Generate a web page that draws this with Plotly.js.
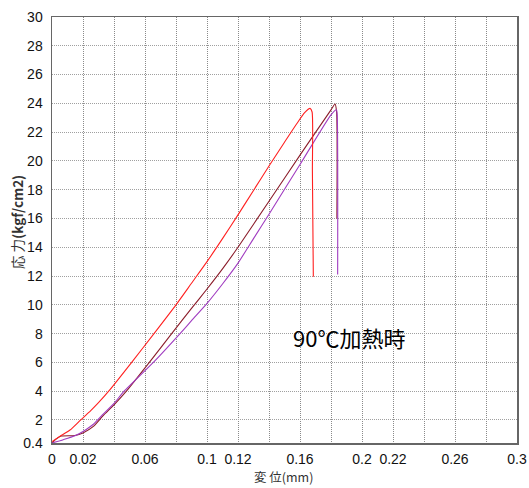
<!DOCTYPE html>
<html>
<head>
<meta charset="utf-8">
<script src="https://cdn.plot.ly/plotly-3.0.1.min.js"></script>
<style>html,body{margin:0;padding:0;background:#fff;}#chart{width:529px;height:488px;}</style>
</head>
<body>
<div id="chart"></div>
<script>
// Sample A (red)
const redX = [0, 0.005, 0.0116, 0.018, 0.025, 0.03, 0.037, 0.0514, 0.0658, 0.08, 0.09, 0.1, 0.11, 0.12, 0.13, 0.14, 0.15, 0.158, 0.163, 0.1665, 0.1678, 0.168, 0.1686];
const redY = [0.5, 0.85, 1.3, 1.95, 2.65, 3.2, 4.05, 6.0, 8.0, 10.0, 11.5, 13.0, 14.6, 16.25, 17.95, 19.65, 21.3, 22.6, 23.35, 23.65, 23.4, 19.3, 11.95];
// Sample B (maroon)
const maroonX = [0, 0.003, 0.006, 0.0148, 0.02, 0.0267, 0.033, 0.04, 0.048, 0.0628, 0.0772, 0.09, 0.1, 0.11, 0.12, 0.14, 0.16, 0.18, 0.1826, 0.1836, 0.1838];
const maroonY = [0.4, 0.7, 0.88, 0.92, 1.1, 1.55, 2.3, 3.05, 4.0, 6.0, 8.0, 9.75, 11.1, 12.5, 14.0, 17.2, 20.4, 23.55, 23.95, 23.4, 16.0];
// Sample C (purple)
const purpleX = [0, 0.0073, 0.0148, 0.02, 0.0267, 0.033, 0.04, 0.0465, 0.0654, 0.0826, 0.09, 0.1, 0.11, 0.12, 0.13, 0.14, 0.16, 0.18, 0.1835, 0.184, 0.1843];
const purpleY = [0.4, 0.63, 0.9, 1.2, 1.7, 2.4, 3.15, 4.0, 6.0, 8.0, 8.9, 10.1, 11.45, 12.9, 14.6, 16.3, 19.75, 23.2, 23.55, 23.2, 12.1];

const xTickVals = [0, 0.02, 0.04, 0.06, 0.08, 0.1, 0.12, 0.14, 0.16, 0.18, 0.2, 0.22, 0.24, 0.26, 0.28, 0.3];
const xTickText = ['0', '0.02', '', '0.06', '', '0.1', '0.12', '', '0.16', '', '0.2', '0.22', '', '0.26', '', '0.3'];
const yTickVals = [0.4, 2, 4, 6, 8, 10, 12, 14, 16, 18, 20, 22, 24, 26, 28, 30];
const yTickText = ['0.4', '2', '4', '6', '8', '10', '12', '14', '16', '18', '20', '22', '24', '26', '28', '30'];

const xTitle = '変\u00a0位(mm)';
const yTitle = '応\u00a0力<b>(kgf/cm2)</b>';
const note = '90℃加熱時';

const font = '"Liberation Sans", Arial, "Noto Sans CJK JP", sans-serif';
const cjkFont = '"Noto Sans CJK JP", "Liberation Sans", sans-serif';

const traces = [
  {x: maroonX, y: maroonY, mode: 'lines', line: {color: '#8b1c2a', width: 1.1, shape: 'spline', smoothing: 0.6}, hoverinfo: 'skip'},
  {x: purpleX, y: purpleY, mode: 'lines', line: {color: '#a03cc0', width: 1.1, shape: 'spline', smoothing: 0.6}, hoverinfo: 'skip'},
  {x: redX, y: redY, mode: 'lines', line: {color: '#ff2020', width: 1.1, shape: 'spline', smoothing: 0.6}, hoverinfo: 'skip'}
];

const layout = {
  width: 529, height: 488,
  margin: {l: 52, r: 12, t: 17, b: 45},
  paper_bgcolor: '#fff', plot_bgcolor: '#fff',
  showlegend: false,
  font: {family: font, size: 14, color: '#111'},
  xaxis: {
    range: [0, 0.3], tickmode: 'array', tickvals: xTickVals, ticktext: xTickText,
    showgrid: true, gridcolor: '#8a8a8a', griddash: '1px,1px', gridwidth: 1,
    zeroline: false, showline: true, mirror: true, linecolor: '#666', linewidth: 1.5,
    ticks: '', ticklabelstandoff: 3,
    tickfont: {family: font, size: 14, color: '#111'}
  },
  yaxis: {
    range: [0.4, 30], tickmode: 'array', tickvals: yTickVals, ticktext: yTickText,
    showgrid: true, gridcolor: '#a0a0a0', griddash: '1px,1px', gridwidth: 1,
    zeroline: false, showline: true, mirror: true, linecolor: '#666', linewidth: 1.5,
    ticks: '', ticklabelstandoff: 5,
    tickfont: {family: font, size: 14, color: '#111'}
  },
  annotations: [{
    text: note, xref: 'paper', yref: 'paper',
    x: (349 - 52) / 465, y: (443 - 337) / 426,
    xanchor: 'center', yanchor: 'middle', showarrow: false,
    font: {family: cjkFont, size: 22, color: '#000'}
  }, {
    text: yTitle, xref: 'paper', yref: 'paper',
    x: (17 - 52) / 465, y: (443 - 222) / 426,
    xanchor: 'center', yanchor: 'middle', textangle: -90, showarrow: false,
    font: {family: cjkFont, size: 13.5, color: '#333'}
  }, {
    text: xTitle, xref: 'paper', yref: 'paper',
    x: (283 - 52) / 465, y: (443 - 487.5) / 426,
    xanchor: 'center', yanchor: 'bottom', showarrow: false, borderpad: 0,
    font: {family: cjkFont, size: 12.5, color: '#333'}
  }]
};

Plotly.newPlot('chart', traces, layout, {staticPlot: true, displayModeBar: false});
</script>
</body>
</html>
